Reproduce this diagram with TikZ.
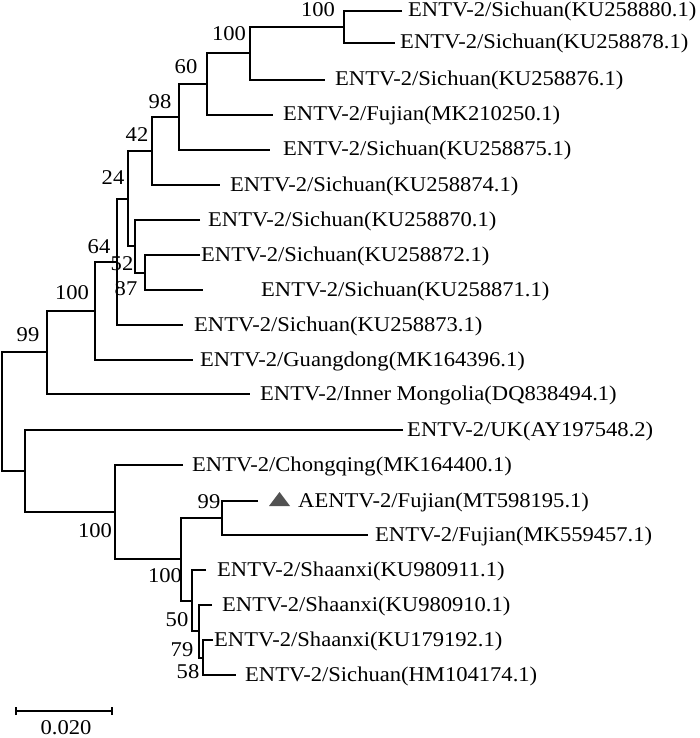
\documentclass[tikz,border=0pt]{standalone}
\usepackage{fontspec}
\setmainfont[FakeStretch=1.075]{Liberation Serif}
\begin{document}
\begin{tikzpicture}[x=1pt,y=-1pt,
  br/.style={line width=2pt, line join=miter},
  leaf/.style={anchor=base west, inner sep=0pt, font=\fontsize{21}{25}\selectfont},
  bs/.style={inner sep=0pt, font=\fontsize{21}{25}\selectfont}]
\useasboundingbox (0,0) rectangle (700,738);
% leaf ends
\coordinate (l1) at (402,11);
\coordinate (l2) at (395,43);
\coordinate (l3) at (325,80);
\coordinate (l4) at (273,115);
\coordinate (l5) at (270,150);
\coordinate (l6) at (220,185);
\coordinate (l7) at (200,220);
\coordinate (l8) at (200,255);
\coordinate (l9) at (203,290);
\coordinate (l10) at (183,325);
\coordinate (l11) at (193,360);
\coordinate (l12) at (250,394);
\coordinate (l13) at (403,430);
\coordinate (l14) at (183,465);
\coordinate (l15) at (258,501);
\coordinate (l16) at (368,535);
\coordinate (l17) at (206,570);
\coordinate (l18) at (212,605);
\coordinate (l19) at (213,640);
\coordinate (l20) at (236,675);
% internal nodes
\coordinate (nA) at (344,27);
\coordinate (nB) at (250,53.5);
\coordinate (nC) at (207,84);
\coordinate (nD) at (179,117);
\coordinate (nE) at (152,151);
\coordinate (nI) at (145,272.5);
\coordinate (nH) at (135,246);
\coordinate (nF) at (128,198.5);
\coordinate (nG) at (117,261.5);
\coordinate (nJ) at (95,310.5);
\coordinate (nK) at (47,352);
\coordinate (nS) at (203,657.5);
\coordinate (nR) at (199,631);
\coordinate (nQ) at (192,600.5);
\coordinate (nP) at (222,518);
\coordinate (nO) at (181,559);
\coordinate (nN) at (115,512);
\coordinate (nM) at (25,471);
\coordinate (root) at (2,411);
% branches
\draw[br] (l1) -| (nA) |- (l2);
\draw[br] (nA) -| (nB) |- (l3);
\draw[br] (nB) -| (nC) |- (l4);
\draw[br] (nC) -| (nD) |- (l5);
\draw[br] (nD) -| (nE) |- (l6);
\draw[br] (l8) -| (nI) |- (l9);
\draw[br] (l7) -| (nH) |- (nI);
\draw[br] (nE) -| (nF) |- (nH);
\draw[br] (nF) -| (nG) |- (l10);
\draw[br] (nG) -| (nJ) |- (l11);
\draw[br] (nJ) -| (nK) |- (l12);
\draw[br] (l19) -| (nS) |- (l20);
\draw[br] (l18) -| (nR) |- (nS);
\draw[br] (l17) -| (nQ) |- (nR);
\draw[br] (l15) -| (nP) |- (l16);
\draw[br] (nP) -| (nO) |- (nQ);
\draw[br] (l14) -| (nN) |- (nO);
\draw[br] (l13) -| (nM) |- (nN);
\draw[br] (nK) -| (root) |- (nM);
% leaf labels
\node[leaf] (t1) at (408,17) {ENTV-2/Sichuan(KU258880.1)};
\node[leaf] (t2) at (400,49) {ENTV-2/Sichuan(KU258878.1)};
\node[leaf] (t3) at (335,86) {ENTV-2/Sichuan(KU258876.1)};
\node[leaf] (t4) at (283,121) {ENTV-2/Fujian(MK210250.1)};
\node[leaf] (t5) at (283,156) {ENTV-2/Sichuan(KU258875.1)};
\node[leaf] (t6) at (230,191) {ENTV-2/Sichuan(KU258874.1)};
\node[leaf] (t7) at (208,226) {ENTV-2/Sichuan(KU258870.1)};
\node[leaf] (t8) at (201,261) {ENTV-2/Sichuan(KU258872.1)};
\node[leaf] (t9) at (261,296) {ENTV-2/Sichuan(KU258871.1)};
\node[leaf] (t10) at (194,331) {ENTV-2/Sichuan(KU258873.1)};
\node[leaf] (t11) at (200,366) {ENTV-2/Guangdong(MK164396.1)};
\node[leaf] (t12) at (260,400) {ENTV-2/Inner Mongolia(DQ838494.1)};
\node[leaf] (t13) at (407,436) {ENTV-2/UK(AY197548.2)};
\node[leaf] (t14) at (192,471) {ENTV-2/Chongqing(MK164400.1)};
\node[leaf] (t15) at (298,507) {AENTV-2/Fujian(MT598195.1)};
\node[leaf] (t16) at (375,541) {ENTV-2/Fujian(MK559457.1)};
\node[leaf] (t17) at (217,576) {ENTV-2/Shaanxi(KU980911.1)};
\node[leaf] (t18) at (222,611) {ENTV-2/Shaanxi(KU980910.1)};
\node[leaf] (t19) at (214,646) {ENTV-2/Shaanxi(KU179192.1)};
\node[leaf] (t20) at (245,681) {ENTV-2/Sichuan(HM104174.1)};
% marker
\fill[fill=black!68] (269,506) -- (290,506) -- (279.5,492) -- cycle;
% bootstrap values
\node[bs] (bA) at (318,10) {100};
\node[bs] (bB) at (229,34) {100};
\node[bs] (bC) at (186,67) {60};
\node[bs] (bD) at (160,102) {98};
\node[bs] (bE) at (137,135) {42};
\node[bs] (bF) at (113,178) {24};
\node[bs] (bJ) at (99,247) {64};
\node[bs] (bH) at (122,264) {52};
\node[bs] (bI) at (126,289) {87};
\node[bs] (bK) at (72,293) {100};
\node[bs] (bL) at (28,335) {99};
\node[bs] (bN) at (95,531) {100};
\node[bs] (bO) at (165,576) {100};
\node[bs] (bP) at (209,502) {99};
\node[bs] (bQ) at (177,620) {50};
\node[bs] (bR) at (182,650) {79};
\node[bs] (bS) at (188,672) {58};
% scale bar
\coordinate (s1) at (16,711);
\coordinate (s2) at (112,711);
\draw[line width=2pt] (s1) -- (s2);
\draw[line width=2pt] ([yshift=-4]s1) -- ([yshift=4]s1);
\draw[line width=2pt] ([yshift=-4]s2) -- ([yshift=4]s2);
\node[bs, anchor=base] (sc) at (66,734) {0.020};
\end{tikzpicture}
\end{document}
